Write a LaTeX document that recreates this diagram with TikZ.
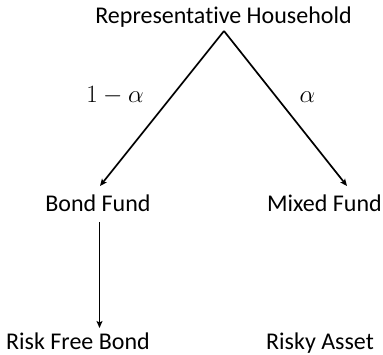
\documentclass[tikz,border=0pt]{standalone}
\usepackage{fontspec}
\setmainfont{Carlito}[Ligatures=NoCommon]
\usetikzlibrary{arrows.meta}
\begin{document}
\begin{tikzpicture}[x=1pt,y=-1pt,
  lbl/.style={anchor=base,inner sep=0pt,font=\fontsize{24}{28}\selectfont},
  mlbl/.style={anchor=base,inner sep=0pt,font=\fontsize{24}{28}\selectfont},
  conn/.style={line width=1.7pt},
  arr/.style={conn,-{Stealth[length=7pt,width=6pt,inset=1.5pt]}}]
\useasboundingbox (0,0) rectangle (383,355);
\node[lbl] (rh) at (223.5,24) {Representative Household};
\node[lbl] (bf) at (98,212) {Bond Fund};
\node[lbl] (mf) at (324.5,212) {Mixed Fund};
\node[lbl] (rfb) at (78,350) {Risk Free Bond};
\node[lbl] (ra) at (320,350) {Risky Asset};
\node[mlbl] (la) at (115,103) {$1-\alpha$};
\node[mlbl] (ra2) at (307.5,103) {$\alpha$};
\coordinate (apex) at ([xshift=0.5pt,yshift=-7pt]rh.base);
\draw[arr] (apex) -- ([xshift=2pt,yshift=26pt]bf.base);
\draw[arr] (apex) -- ([xshift=22.5pt,yshift=26pt]mf.base);
\draw[arr] ([xshift=1.5pt,yshift=-10pt]bf.base) -- ([xshift=1.5pt,yshift=22pt]bf.base |- rfb.base);
\end{tikzpicture}
\end{document}
